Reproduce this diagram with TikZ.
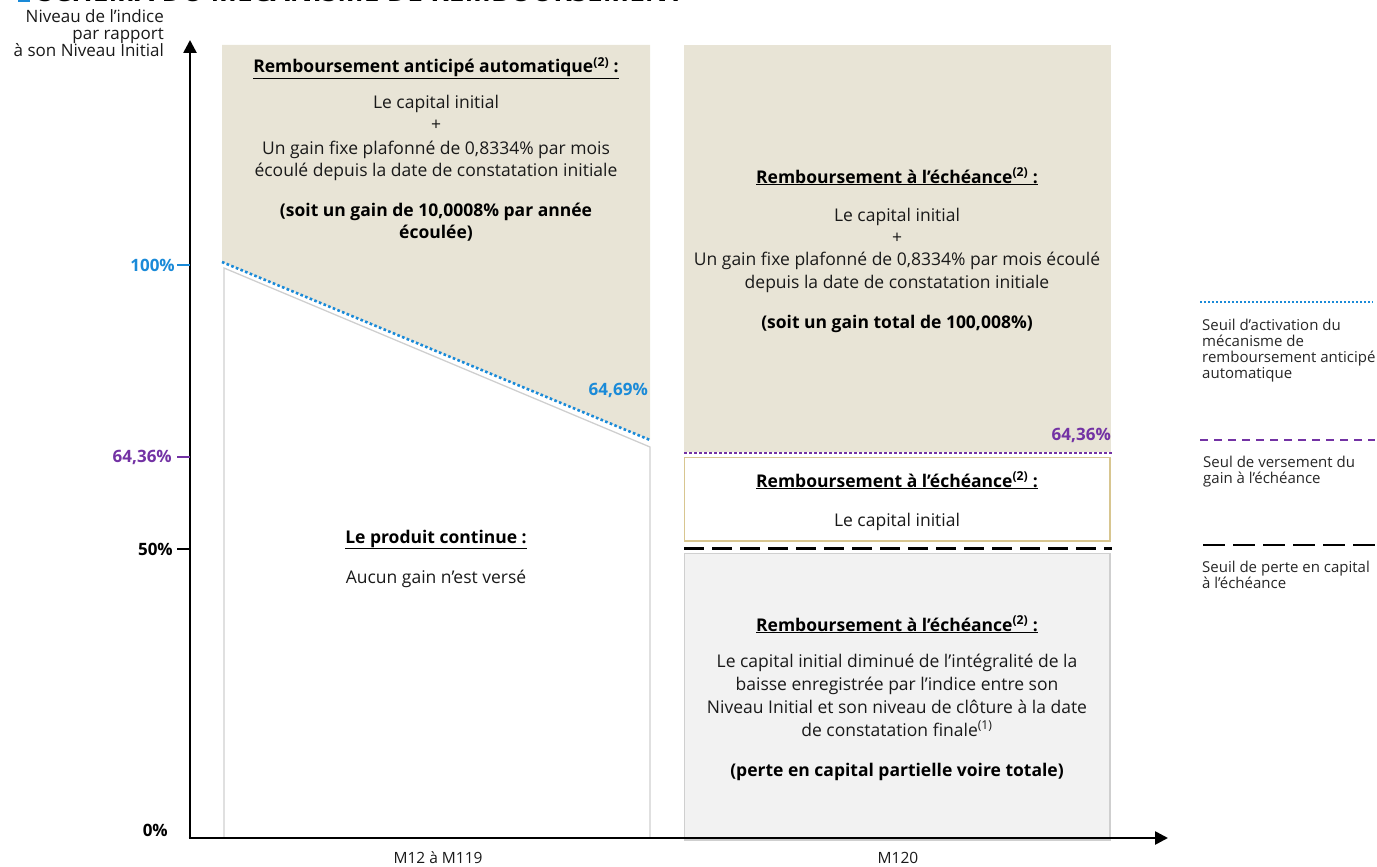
\documentclass[tikz,border=0pt]{standalone}
\usepackage{fontspec}
\setmainfont{Open Sans}
\usetikzlibrary{arrows.meta}
\definecolor{beige}{HTML}{E8E4D6}
\definecolor{lgray}{HTML}{F2F2F2}
\definecolor{edgegray}{HTML}{CFCFCF}
\definecolor{myblue}{HTML}{1A8AD8}
\definecolor{mypurple}{HTML}{7332A4}
\definecolor{tan}{HTML}{D8C690}
\tikzset{
  body/.style={anchor=base, font=\fontsize{17.5}{22.5}\selectfont, text=black!90, inner sep=0pt},
  heading/.style={anchor=base, font=\fontsize{17.5}{22.5}\selectfont\bfseries, inner sep=0pt},
  ytitle/.style={anchor=base east, font=\fontsize{17}{16}\selectfont, text=black!90, inner sep=0pt},
  legtext/.style={align=left, anchor=north west, font=\fontsize{15}{16}\selectfont, inner sep=0pt, text=black!85},
  ticklab/.style={anchor=east, font=\fontsize{17}{18}\selectfont\bfseries, inner sep=0pt},
  axisline/.style={line width=2.6pt, -{Triangle[length=13pt,width=13pt]}},
  bluedots/.style={myblue, line width=2.6pt, dash pattern=on 2.6pt off 2.4pt},
  purpledots/.style={mypurple, line width=2.6pt, dash pattern=on 2.6pt off 2.4pt},
  blackdash/.style={black, line width=3pt, dash pattern=on 20pt off 8pt},
}
\begin{document}
\begin{tikzpicture}[x=1pt,y=-1pt]
\useasboundingbox (0,0) rectangle (1377,867);
\clip (0,0) rectangle (1377,867);
% title (cut off at the top)
\fill[myblue] (18,-10) rectangle (30,2);
\node[anchor=base west, inner sep=0pt, font=\fontsize{28}{28}\selectfont\bfseries] (title) at (38,1.5) {SCHÉMA DU MÉCANISME DE REMBOURSEMENT};

% left zone
\fill[beige] (222,45) -- (650,45) -- (650,440) -- (222,262) -- cycle;
\draw[edgegray, line width=1.3pt] (224,838) -- (224,268) -- (650,447) -- (650,838);
\draw[bluedots] (222,262) -- (650,440);

% right zone
\fill[beige] (684,45) rectangle (1111,452);
\draw[purpledots] (684,453) -- (1112,453);
\draw[tan, line width=1.2pt, fill=white] (684.5,457.5) rectangle (1110,541);
\draw[blackdash] (684,548) -- (1112,548);
\draw[edgegray, line width=1.2pt, fill=lgray] (684.5,553.5) rectangle (1110,840);

% axes
\coordinate (O) at (190,838);
\coordinate (Ytop) at (190,40);
\coordinate (Xend) at (1168,838);
\draw[axisline] (O) -- (Ytop);
\draw[axisline] ([xshift=-1.3pt]O) -- (Xend);

% ticks
\draw[myblue, line width=2.6pt] (177,265) -- (190,265);
\draw[mypurple, line width=2.6pt] (177,457) -- (190,457);
\draw[black, line width=2.6pt] (177,549) -- (190,549);
\node[ticklab, text=myblue] (t100) at (175,265) {100\%};
\node[ticklab, text=mypurple] (t64) at (172,457) {64,36\%};
\node[ticklab] (t50) at (173,549) {50\%};
\node[ticklab] (t0) at (168,830) {0\%};

% axis title
\node[ytitle] (yt1) at (164,23) {Niveau de l'indice};
\node[ytitle] (yt2) at (164,40) {par rapport};
\node[ytitle] (yt3) at (164,57) {à son Niveau Initial};

% x labels
\node[body, font=\fontsize{15.5}{18}\selectfont] (m12) at (438,863) {M12 à M119};
\node[body, font=\fontsize{15.5}{18}\selectfont] (m120) at (898,863) {M120};

% left beige texts
\node[heading] (h1) at (436,73) {\underline{Remboursement anticipé automatique\textsuperscript{(2)} :}};
\node[body] (b1a) at (436,109) {Le capital initial};
\node[body] (b1b) at (436,131) {+};
\node[body] (b1c) at (436,154) {Un gain fixe plafonné de 0,8334\% par mois};
\node[body] (b1d) at (436,176) {écoulé depuis la date de constatation initiale};
\node[heading] (s1a) at (436,216) {(soit un gain de 10,0008\% par année};
\node[heading] (s1b) at (436,238) {écoulée)};
\node[anchor=east, inner sep=0pt, font=\fontsize{17}{18}\selectfont\bfseries, text=myblue] (p6469) at (648,390) {64,69\%};

% left white texts
\node[heading] (h2) at (436,543) {\underline{Le produit continue :}};
\node[body] (b2) at (436,583) {Aucun gain n’est versé};

% right beige texts
\node[heading] (h3) at (897,183) {\underline{Remboursement à l’échéance\textsuperscript{(2)} :}};
\node[body] (b3a) at (897,221) {Le capital initial};
\node[body] (b3b) at (897,243) {+};
\node[body] (b3c) at (897,265) {Un gain fixe plafonné de 0,8334\% par mois écoulé};
\node[body] (b3d) at (897,288) {depuis la date de constatation initiale};
\node[heading] (s3) at (897,328) {(soit un gain total de 100,008\%)};
\node[anchor=east, inner sep=0pt, font=\fontsize{17}{18}\selectfont\bfseries, text=mypurple] (p6436) at (1111,435) {64,36\%};

% white box texts
\node[heading] (h4) at (897,487) {\underline{Remboursement à l’échéance\textsuperscript{(2)} :}};
\node[body] (b4) at (897,526) {Le capital initial};

% gray box texts
\node[heading] (h5) at (897,631) {\underline{Remboursement à l’échéance\textsuperscript{(2)} :}};
\node[body] (b5a) at (897,667) {Le capital initial diminué de l’intégralité de la};
\node[body] (b5b) at (897,690) {baisse enregistrée par l'indice entre son};
\node[body] (b5c) at (897,713) {Niveau Initial et son niveau de clôture à la date};
\node[body] (b5d) at (897,736) {de constatation finale\textsuperscript{(1)}};
\node[heading] (s5) at (897,776) {(perte en capital partielle voire totale)};

% legend
\coordinate (l1a) at (1200,302); \coordinate (l1b) at (1373,302);
\draw[myblue, line width=2pt, dash pattern=on 2pt off 2pt] (l1a) -- (l1b);
\node[legtext] (lt1) at (1202,319) {Seuil d’activation du\\mécanisme de\\remboursement anticipé\\automatique};
\coordinate (l2a) at (1200,440); \coordinate (l2b) at (1375,440);
\draw[mypurple, line width=1.6pt, dash pattern=on 8pt off 6pt] (l2a) -- (l2b);
\node[legtext] (lt2) at (1203,456) {Seul de versement du\\gain à l’échéance};
\coordinate (l3a) at (1203,545); \coordinate (l3b) at (1375,545);
\draw[black, line width=2.6pt, dash pattern=on 22pt off 8pt] (l3a) -- (l3b);
\node[legtext] (lt3) at (1202,561) {Seuil de perte en capital\\à l’échéance};
\end{tikzpicture}
\end{document}
